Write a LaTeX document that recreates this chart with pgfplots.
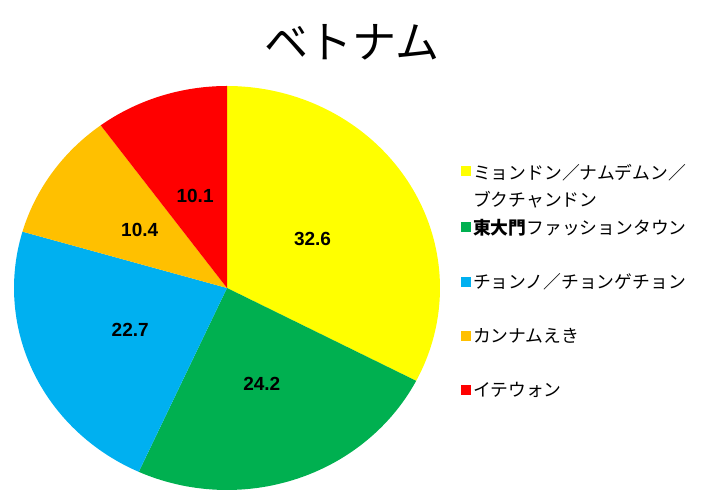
\documentclass[border=0pt]{standalone}
\usepackage{pgfplots}
\pgfplotsset{compat=1.18}
\usepackage{fontspec}
\setmainfont{Noto Sans CJK JP}
\newfontfamily\numfont{Liberation Sans}
\definecolor{cA}{HTML}{FFFF00}
\definecolor{cB}{HTML}{00B050}
\definecolor{cC}{HTML}{00B0F0}
\definecolor{cD}{HTML}{FFC000}
\definecolor{cE}{HTML}{FF0000}
% values (percent)
\def\va{32.6}\def\vb{24.2}\def\vc{22.7}\def\vd{10.4}\def\ve{10.1}
\begin{document}
\begin{tikzpicture}
\path[use as bounding box] (0,0) rectangle (710pt,500pt);
\node[font=\fontsize{44}{48}\selectfont] at (352pt,458pt) {ベトナム};
\begin{axis}[
  at={(227pt,212pt)}, anchor=center,
  scale only axis, width=426pt, height=404pt,
  xmin=-1, xmax=1, ymin=-1, ymax=1,
  hide axis, clip=false,
  legend style={at={(1.042,0.522)}, anchor=west, draw=none, fill=none,
    font=\fontsize{17.8}{27}\selectfont, row sep=34pt,
    nodes={align=left, inner sep=2pt}},
  legend cell align=left,
  legend image code/.code={\fill[#1] (0pt,-5pt) rectangle (10pt,5pt);},
]
\addplot[fill=cA, draw=none, domain={90-3.6*(\va)}:{90}, samples=80]
  ({cos(x)},{sin(x)}) -- (axis cs:0,0) -- cycle;
\addlegendentry{\raisebox{0pt}[\height][\dimexpr\depth-13pt\relax]{\begin{tabular}[t]{@{}l@{}}ミョンドン／ナムデムン／\\ブクチャンドン\end{tabular}}}
\addplot[fill=cB, draw=none, domain={90-3.6*(\va+\vb)}:{90-3.6*(\va)}, samples=60]
  ({cos(x)},{sin(x)}) -- (axis cs:0,0) -- cycle;
\addlegendentry{\textbf{東大門}ファッションタウン}
\addplot[fill=cC, draw=none, domain={90-3.6*(\va+\vb+\vc)}:{90-3.6*(\va+\vb)}, samples=60]
  ({cos(x)},{sin(x)}) -- (axis cs:0,0) -- cycle;
\addlegendentry{チョンノ／チョンゲチョン}
\addplot[fill=cD, draw=none, domain={90-3.6*(\va+\vb+\vc+\vd)}:{90-3.6*(\va+\vb+\vc)}, samples=40]
  ({cos(x)},{sin(x)}) -- (axis cs:0,0) -- cycle;
\addlegendentry{カンナムえき}
\addplot[fill=cE, draw=none, domain={90-3.6*(\va+\vb+\vc+\vd+\ve)}:{90-3.6*(\va+\vb+\vc+\vd)}, samples=40]
  ({cos(x)},{sin(x)}) -- (axis cs:0,0) -- cycle;
\addlegendentry{イテウォン}
\pgfmathsetmacro{\ma}{90-3.6*(\va/2)}
\pgfmathsetmacro{\mb}{90-3.6*(\va+\vb/2)}
\pgfmathsetmacro{\mc}{90-3.6*(\va+\vb+\vc/2)}
\pgfmathsetmacro{\md}{90-3.6*(\va+\vb+\vc+\vd/2)}
\pgfmathsetmacro{\me}{90-3.6*(\va+\vb+\vc+\vd+\ve/2)}
\tikzset{lab/.style={font=\numfont\bfseries\fontsize{19}{22}\selectfont}}
\node[lab] at (axis cs:{0.47*cos(\ma)},{0.47*sin(\ma)}) {32.6};
\node[lab] at (axis cs:{0.5*cos(\mb)},{0.5*sin(\mb)}) {24.2};
\node[lab] at (axis cs:{0.5*cos(\mc)},{0.5*sin(\mc)}) {22.7};
\node[lab] at (axis cs:{0.5*cos(\md)},{0.5*sin(\md)}) {10.4};
\node[lab] at (axis cs:{0.48*cos(\me)},{0.48*sin(\me)}) {10.1};
\end{axis}
\end{tikzpicture}
\end{document}
